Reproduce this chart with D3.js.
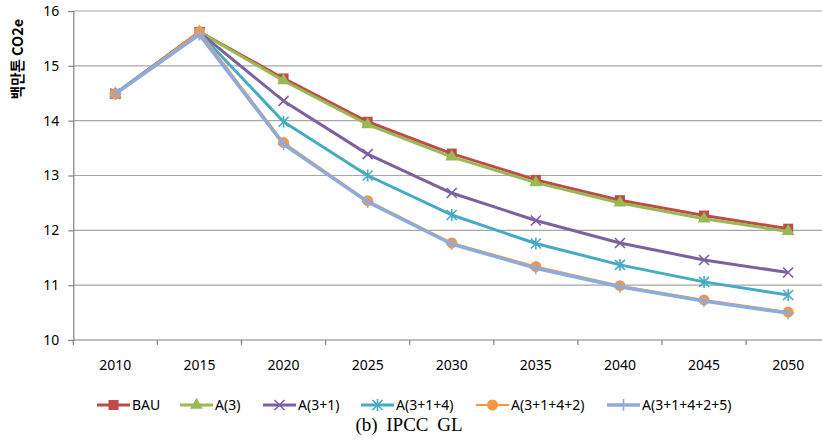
<!DOCTYPE html>
<html>
<head>
<meta charset="utf-8">
<script src="https://cdn.jsdelivr.net/npm/d3@7"></script>
<style>
  body { margin: 0; background: #fff; }
  svg { display: block; }
  .tick text { font-family: "Noto Sans", sans-serif; font-size: 14px; fill: #000; }
</style>
</head>
<body>
<svg id="chart" width="822" height="445"></svg>
<script>
// data
let years = ["2010","2015","2020","2025","2030","2035","2040","2045","2050"]
let yTicks = [10, 11, 12, 13, 14, 15, 16]
let seriesNames = ["BAU","A(3)","A(3+1)","A(3+1+4)","A(3+1+4+2)","A(3+1+4+2+5)"]
let bau      = [14.49, 15.62, 14.77, 13.98, 13.40, 12.92, 12.55, 12.27, 12.03]
let a3       = [14.49, 15.62, 14.73, 13.93, 13.34, 12.87, 12.50, 12.21, 11.98]
let a31      = [14.49, 15.61, 14.36, 13.39, 12.68, 12.18, 11.77, 11.46, 11.23]
let a314     = [14.49, 15.60, 13.98, 13.00, 12.28, 11.76, 11.37, 11.06, 10.82]
let a3142    = [14.49, 15.62, 13.60, 12.54, 11.77, 11.34, 10.99, 10.73, 10.51]
let a31425   = [14.49, 15.57, 13.57, 12.52, 11.75, 11.31, 10.97, 10.71, 10.49]
let allValues = [bau, a3, a31, a314, a3142, a31425]

let colors  = ["#be4b48", "#98b954", "#7d60a0", "#46aac5", "#f79646", "#8eabdb"]
let widths  = [3, 3, 3, 3, 2, 3.5]
let markers = ["square", "triangle", "x", "star", "circle", "plus"]

let svg = d3.select("#chart")
let plotLeft = 73.3, plotRight = 830.2, plotTop = 11, plotBottom = 340

let xScale = d3.scaleBand().domain(years).range([plotLeft, plotRight])
let yScale = d3.scaleLinear().domain([10, 16]).range([plotBottom, plotTop])
let cx = d => xScale(d) + xScale.bandwidth() / 2

// gridlines
svg.append("g").selectAll("line")
    .data(yTicks.slice(1))
    .enter().append("line")
    .attr("x1", plotLeft).attr("x2", plotRight)
    .attr("y1", d => yScale(d)).attr("y2", d => yScale(d))
    .attr("stroke", "#a6a6a6").attr("stroke-width", 1.2)

// y axis
let y_axis = d3.axisLeft(yScale).tickValues(yTicks).tickSize(5).tickPadding(9).tickFormat(d3.format("d"))
let gy = svg.append("g").attr("transform", `translate(${plotLeft},0)`).call(y_axis)
gy.select(".domain").attr("stroke", "#7f7f7f").attr("stroke-width", 1.2)
gy.selectAll(".tick line").attr("stroke", "#7f7f7f").attr("stroke-width", 1.2)

// x axis, ticks sit between categories
let gx = svg.append("g").attr("transform", `translate(0,${plotBottom})`)
gx.append("line").attr("x1", plotLeft).attr("x2", plotRight)
    .attr("stroke", "#7f7f7f").attr("stroke-width", 1.2)
gx.selectAll(".xt")
    .data(years)
    .enter().append("line")
    .attr("x1", d => xScale(d)).attr("x2", d => xScale(d))
    .attr("y1", 0).attr("y2", 5)
    .attr("stroke", "#7f7f7f").attr("stroke-width", 1.2)
gx.selectAll(".xl")
    .data(years)
    .enter().append("text")
    .attr("x", d => cx(d)).attr("y", 30)
    .attr("text-anchor", "middle")
    .style("font-family", '"Noto Sans", sans-serif').style("font-size", "14px")
    .text(d => d)

// y label
svg.append("text")
    .attr("transform", "translate(23,59) rotate(-90)")
    .attr("text-anchor", "middle")
    .style("font-family", '"Noto Sans CJK KR", "Noto Sans", sans-serif')
    .style("font-size", "14.5px").style("font-weight", "bold")
    .text("백만톤 CO2e")

function drawMarker(g, type, color) {
    let s = 5
    if (type == "square") {
        g.append("rect").attr("x", -5).attr("y", -5).attr("width", 10).attr("height", 10).attr("fill", color)
    } else if (type == "triangle") {
        g.append("path").attr("d", d3.symbol().type(d3.symbolTriangle).size(70)()).attr("fill", color)
    } else if (type == "circle") {
        g.append("circle").attr("r", 5.5).attr("fill", color)
    } else {
        let p = ""
        if (type == "x" || type == "star") p += `M${-s},${-s}L${s},${s}M${-s},${s}L${s},${-s}`
        if (type == "star") p += `M0,${-s - 1}L0,${s + 1}`
        if (type == "plus") p += `M${-s - 1},0L${s + 1},0M0,${-s - 1}L0,${s + 1}`
        g.append("path").attr("d", p).attr("stroke", color).attr("stroke-width", 1.6).attr("fill", "none")
    }
}

let line = d3.line().x((d, i) => cx(years[i])).y(d => yScale(d))

allValues.forEach(function (vals, k) {
    let g = svg.append("g")
    g.append("path").datum(vals)
        .attr("d", line)
        .attr("fill", "none")
        .attr("stroke", colors[k])
        .attr("stroke-width", widths[k])
        .attr("stroke-linejoin", "round")
    g.selectAll(".m")
        .data(vals)
        .enter().append("g")
        .attr("transform", (d, i) => `translate(${cx(years[i])},${yScale(d)})`)
        .each(function () { drawMarker(d3.select(this), markers[k], colors[k]) })
})

// legend
let legendX = [97, 180, 263, 361, 476, 607]
let legend = svg.append("g")
seriesNames.forEach(function (name, k) {
    let g = legend.append("g").attr("transform", `translate(${legendX[k]},405)`)
    g.append("line").attr("x1", 0).attr("x2", 33)
        .attr("stroke", colors[k]).attr("stroke-width", widths[k])
    let m = g.append("g").attr("transform", "translate(16.5,0)")
    drawMarker(m, markers[k], colors[k])
    g.append("text").attr("x", 35).attr("y", 4.5)
        .style("font-family", '"Noto Sans", sans-serif').style("font-size", "14px")
        .text(name)
})

// caption
svg.append("text")
    .attr("x", 409).attr("y", 431)
    .attr("text-anchor", "middle")
    .style("font-family", '"Liberation Serif", serif')
    .style("font-size", "19px")
    .style("word-spacing", "4px")
    .text("(b) IPCC GL")
</script>
</body>
</html>
